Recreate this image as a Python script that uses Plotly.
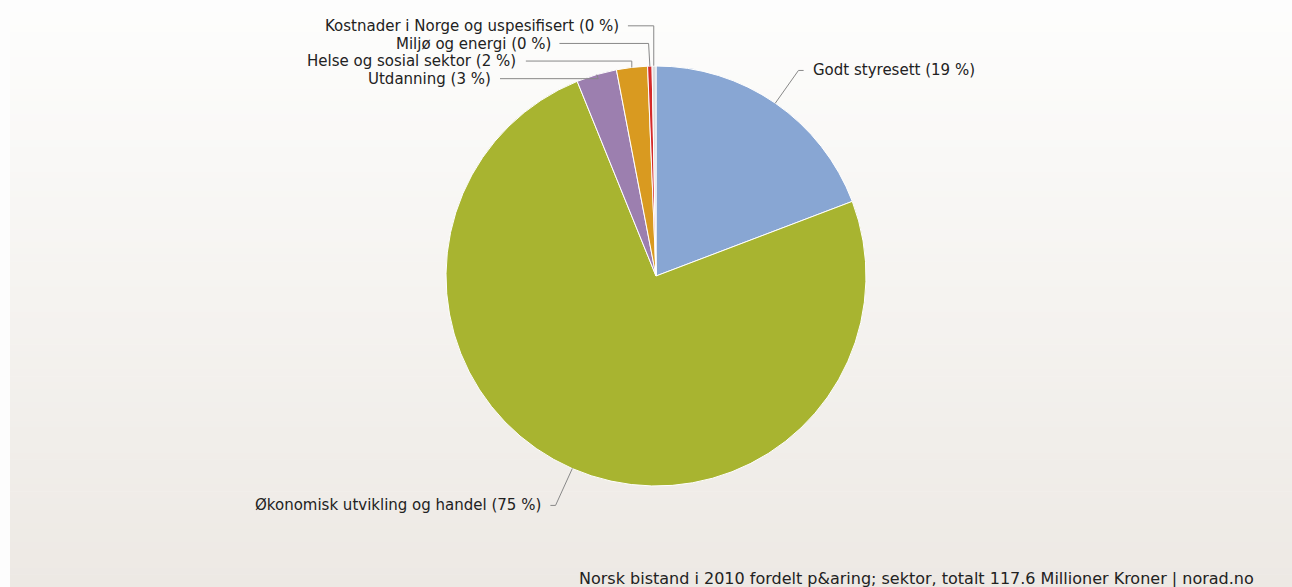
import math
import plotly.graph_objects as go

# ---- data ----
sectors = [
    "Godt styresett",
    "Økonomisk utvikling og handel",
    "Utdanning",
    "Helse og sosial sektor",
    "Miljø og energi",
    "Kostnader i Norge og uspesifisert",
]
values_mnok = [22.6, 87.8, 3.65, 2.8, 0.4, 0.35]
colors = ["#88A6D3", "#A8B430", "#9C7FAF", "#D99A20", "#D42A2A", "#DADADA"]
footer_text = "Norsk bistand i 2010 fordelt p&amp;aring; sektor, totalt 117.6 Millioner Kroner | norad.no"

# ---- geometry (pixels) ----
W, H = 1292, 587
CX, CY, R = 656, 276, 210
LABEL_R = 250      # natural label radius
ANCHOR_R = 251.5   # circle on which label anchors sit
LINE_H = 17.5      # min vertical spacing of stacked labels
FONT = "DejaVu Sans"


def px(x):
    return x / W


def py(y):
    return 1 - y / H


fig = go.Figure()

# background gradient (style only)
n_bands = 90
top_c = (253, 253, 252)
bot_c = (237, 233, 228)
y0_bg = 12
for i in range(n_bands):
    t = i / (n_bands - 1)
    c = tuple(round(top_c[k] + (bot_c[k] - top_c[k]) * t) for k in range(3))
    ya = y0_bg + (H - y0_bg) * i / n_bands
    yb = y0_bg + (H - y0_bg) * (i + 1) / n_bands + 0.6
    fig.add_shape(type="rect", xref="paper", yref="paper",
                  x0=px(10), x1=1, y0=py(min(yb, H)), y1=py(ya),
                  fillcolor="rgb(%d,%d,%d)" % c, line_width=0, layer="below")

fig.add_trace(go.Pie(
    labels=sectors,
    values=values_mnok,
    sort=False,
    direction="clockwise",
    rotation=0,
    marker=dict(colors=colors, line=dict(color="#FFFFFF", width=1)),
    textinfo="none",
    hoverinfo="label+percent",
    showlegend=False,
    domain=dict(x=[px(CX - R), px(CX + R)], y=[py(CY + R), py(CY - R)]),
))

# ---- labels with connectors, computed from the data ----
total = sum(values_mnok)
cum = 0.0
items = []
for name, v in zip(sectors, values_mnok):
    mid = (cum + v / 2) / total * 2 * math.pi
    cum += v
    pct = round(100 * v / total)
    s, c = math.sin(mid), math.cos(mid)
    items.append(dict(text=f"{name} ({pct} %)", a=mid, s=s, c=c,
                      y=CY - LABEL_R * c, left=s < 0))

# resolve overlaps per side: push labels downward
for side in (True, False):
    grp = [it for it in items if it["left"] == side]
    grp.sort(key=lambda it: (round(it["y"] / LINE_H), abs(it["s"])))
    prev = -1e9
    for it in grp:
        it["y"] = max(it["y"], prev + LINE_H)
        prev = it["y"]

for it in items:
    y = it["y"]
    dy = y - CY
    sign = -1 if it["left"] else 1
    t = (CY - y) / it["c"] if abs(it["c"]) > 1e-6 else LABEL_R
    b1x = CX + t * it["s"]
    circ = CX + sign * math.sqrt(max(ANCHOR_R ** 2 - dy ** 2, 0))
    if it["left"]:
        ax = min(circ, b1x - 6)
    else:
        ax = max(circ, b1x + 6)
    ex, ey = CX + R * it["s"], CY - R * it["c"]
    path = "M %.3f %.3f L %.3f %.3f L %.3f %.3f" % (
        px(ax), py(y), px(b1x), py(y), px(ex), py(ey))
    fig.add_shape(type="path", xref="paper", yref="paper", path=path,
                  line=dict(color="#888888", width=1))
    fig.add_annotation(
        x=px(ax + sign * 7), y=py(y), xref="paper", yref="paper",
        text=it["text"], showarrow=False,
        xanchor="right" if it["left"] else "left", yanchor="middle",
        font=dict(family=FONT, size=15, color="#222222"))

fig.add_annotation(
    x=px(1256), y=py(578), xref="paper", yref="paper",
    text=footer_text, showarrow=False, xanchor="right", yanchor="middle",
    font=dict(family=FONT, size=16, color="#222222"))

fig.update_layout(
    width=W, height=H,
    margin=dict(l=0, r=0, t=0, b=0),
    paper_bgcolor="#FDFDFD",
    plot_bgcolor="rgba(0,0,0,0)",
)

fig.write_html("out.html", config={"displayModeBar": False},
               post_script="document.body.style.margin='0';")
